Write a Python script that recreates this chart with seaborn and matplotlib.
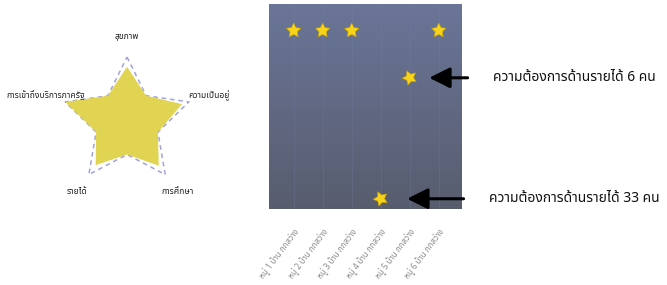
import matplotlib
matplotlib.use("Agg")
import matplotlib.pyplot as plt
import numpy as np
import pandas as pd
import seaborn as sns

# radar: five wellbeing dimensions
dimensions = ["สุขภาพ", "ความเป็นอยู่", "การศึกษา", "รายได้", "การเข้าถึงบริการภาครัฐ"]
score_tips = [0.85, 0.89, 0.83, 0.82, 1.0]    # star points (at each dimension)
score_inner = [0.5, 0.5, 0.5, 0.5, 0.5]       # between dimensions
target_tips = [1.0, 1.0, 1.0, 1.0, 1.0]
target_inner = [0.5, 0.5, 0.5, 0.5, 0.5]

# village panel
villages = ["หมู่ 1 บ้าน กกสว่าง", "หมู่ 2 บ้าน กกสว่าง", "หมู่ 3 บ้าน กกสว่าง",
            "หมู่ 4 บ้าน กกสว่าง", "หมู่ 5 บ้าน กกสว่าง", "หมู่ 6 บ้าน กกสว่าง"]
level = [8.7, 8.7, 8.7, 0.5, 6.4, 8.7]
tilted = [False, False, False, True, True, False]
income_need = [0, 0, 0, 33, 6, 0]

sns.set_style("white")
plt.rcParams["font.family"] = ["Noto Sans Thai", "DejaVu Sans"]

fig = plt.figure(figsize=(6.67, 2.85), dpi=100)

# ---- radar ----
ax = fig.add_axes([0.054, 0.2526, 0.2729, 0.6386], projection="polar")
ax.set_theta_zero_location("N")
ax.set_theta_direction(-1)
n = len(dimensions)
ang_tip = np.arange(n) * 2 * np.pi / n
ang_in = ang_tip + np.pi / n
theta = np.ravel(np.column_stack([ang_tip, ang_in]))
r_fill = np.ravel(np.column_stack([score_tips, score_inner]))
r_dash = np.ravel(np.column_stack([target_tips, target_inner]))
theta = np.append(theta, theta[0])
r_fill = np.append(r_fill, r_fill[0])
r_dash = np.append(r_dash, r_dash[0])
ax.plot(theta, r_dash, color="#a2a3d6", lw=1.1, ls=(0, (3, 2.5)), zorder=1)
ax.fill(theta, r_fill, color="#e1d452", zorder=2, lw=0)
for a, lab in zip(ang_tip, dimensions):
    ax.text(a, 1.32, lab, ha="center", va="center", fontsize=6.2, color="#222222")
ax.set_ylim(0, 1.4)
ax.axis("off")

# ---- village stars ----
ax2 = fig.add_axes([269 / 667, 1 - 209 / 285, 193 / 667, 205 / 285])
df = pd.DataFrame({"village": villages, "level": level,
                   "shape": ["tilt" if t else "up" for t in tilted]})
grad = np.linspace(0, 1, 256)[:, None]
top = np.array([106, 117, 152]) / 255
bot = np.array([88, 93, 110]) / 255
img = top[None, None, :] * (1 - grad[..., None]) + bot[None, None, :] * grad[..., None]
ax2.imshow(img, extent=[-0.85, 5.8, 0, 10], aspect="auto", zorder=0)
for i in range(len(villages)):
    ax2.axvline(i, color="#7a83a8", lw=0.6, alpha=0.25, zorder=1)
sns.scatterplot(data=df, x="village", y="level", style="shape",
                markers={"up": (5, 1, 0), "tilt": (5, 1, 22)},
                s=120, color="#f7d31a", edgecolor="#c9a400", linewidth=0.4,
                legend=False, zorder=3, ax=ax2)
ax2.set_xlim(-0.85, 5.8)
ax2.set_ylim(0, 10)
ax2.set_xlabel("")
ax2.set_ylabel("")
ax2.set_yticks([])
ax2.tick_params(axis="x", length=0, pad=13)
plt.setp(ax2.get_xticklabels(), rotation=53, ha="right", rotation_mode="anchor",
         fontsize=5.8, color="#8a8a8a")
for s in ax2.spines.values():
    s.set_visible(False)

for i, cnt in enumerate(income_need):
    if cnt == 0:
        continue
    off = 60 if cnt < 10 else 78
    shrink = 14 if cnt < 10 else 19
    ax2.annotate(f"ความต้องการด้านรายได้ {cnt} คน", xy=(i, level[i]),
                 xytext=(off, 0), textcoords="offset points",
                 ha="left", va="center", fontsize=10, color="#111111",
                 annotation_clip=False,
                 arrowprops=dict(arrowstyle="-|>,head_length=0.7,head_width=0.35",
                                 color="black", lw=2.2, mutation_scale=18,
                                 relpos=(0, 0.5), shrinkA=16, shrinkB=shrink))

fig.savefig("out.png", dpi=100)
